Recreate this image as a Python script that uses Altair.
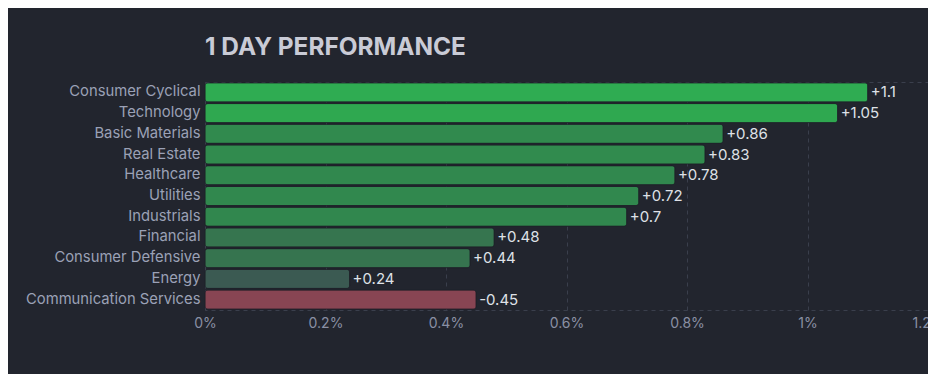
import altair as alt
import pandas as pd

sectors = ["Consumer Cyclical", "Technology", "Basic Materials", "Real Estate",
           "Healthcare", "Utilities", "Industrials", "Financial",
           "Consumer Defensive", "Energy", "Communication Services"]
changes = [1.1, 1.05, 0.86, 0.83, 0.78, 0.72, 0.7, 0.48, 0.44, 0.24, -0.45]
bar_colors = ["#2fac52", "#2fa850", "#318a4e", "#318b4e", "#31884e", "#31884e",
              "#31874e", "#36754f", "#36744f", "#3b5a52", "#884553"]

df = pd.DataFrame({
    "sector": sectors,
    "change": changes,
    "size": [abs(v) for v in changes],
    "label": [("+" if v > 0 else "") + f"{v:g}" for v in changes],
})

BG = "#22252e"

y = alt.Y("sector:N", sort=sectors, title=None,
          scale=alt.Scale(paddingInner=0.08, paddingOuter=0.04),
          axis=alt.Axis(ticks=False, domain=False, labelPadding=5, labelFontSize=14.8,
                        labelColor="#9ba1b6", labelFont="Inter", grid=False))
x = alt.X("size:Q", title=None,
          scale=alt.Scale(domain=[0, 1.2], nice=False),
          axis=alt.Axis(values=[0, 0.2, 0.4, 0.6, 0.8, 1.0, 1.2],
                        labelExpr="datum.value * 1 + '%'",
                        ticks=False, domain=False, labelPadding=6, labelFontSize=14,
                        labelColor="#8a90a4", labelFont="Inter",
                        grid=True, gridColor="#3a3f4c", gridDash=[4, 4],
                        labelFlush=False))

bars = alt.Chart(df).mark_bar(cornerRadius=3, stroke="#1c1f26", strokeWidth=0.6).encode(
    x=x, y=y,
    color=alt.Color("sector:N", scale=alt.Scale(domain=sectors, range=bar_colors), legend=None),
)

text = alt.Chart(df).mark_text(align="left", baseline="middle", dx=3, fontSize=15,
                               font="Inter", color="#dfe1e7").encode(
    x="size:Q", y=alt.Y("sector:N", sort=sectors), text="label:N")

chart = (bars + text).properties(
    width=723, height=228,
    title=alt.TitleParams("1 DAY PERFORMANCE", anchor="start", frame="group", fontSize=24.4,
                          fontWeight="bold", font="Inter", color="#c9cbd6", offset=22),
    autosize=alt.AutoSizeParams(type="none"),
    padding={"left": 197, "top": 74, "right": 0, "bottom": 64},
    background=BG,
).configure_view(stroke="#3a3f4c", strokeDash=[4, 4], strokeWidth=1)

chart.save("out.html", embed_options={"renderer": "svg", "actions": False})
